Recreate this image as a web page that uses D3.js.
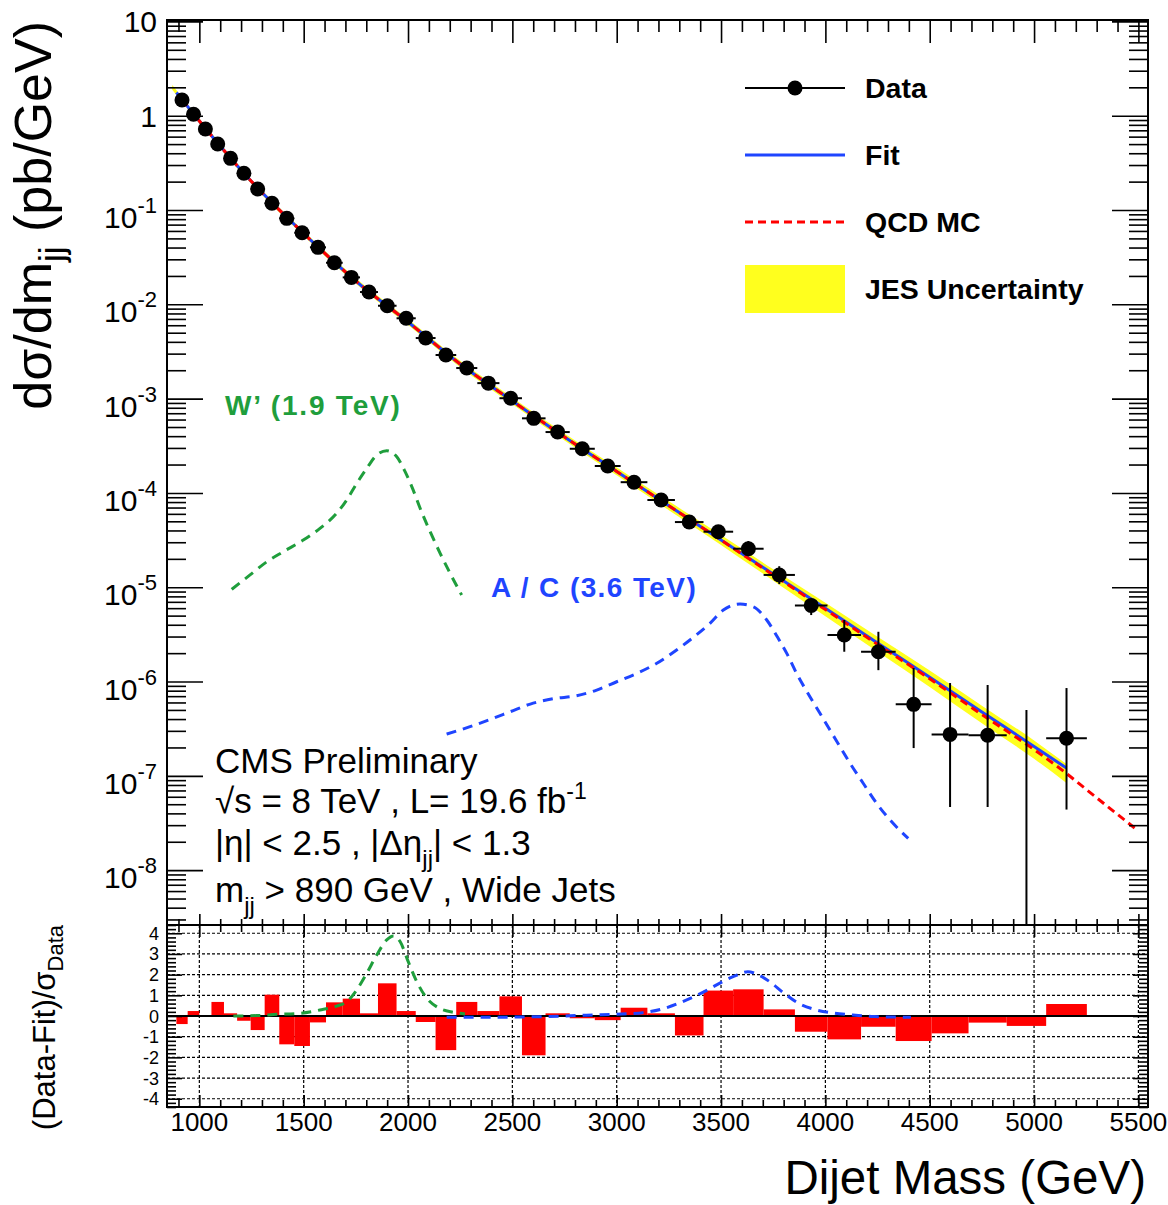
<!DOCTYPE html>
<meta charset="utf-8">
<style>

body {
  margin: 0;
  background: #fff;
}

text {
  font-family: "Liberation Sans", Arial, Helvetica, sans-serif;
}

.frame {
  fill: none;
  stroke: #000;
  stroke-width: 2px;
}

.ticks path {
  display: none;
}

.ticks line {
  stroke: #000;
  stroke-width: 1.6px;
}

.grid {
  stroke: #000;
  stroke-width: 1.2px;
  stroke-dasharray: 3,2;
}

</style>
<svg width="1168" height="1205"></svg>
<script src="https://d3js.org/d3.v7.min.js"></script>
<script>

// dijet mass bins (GeV)
var binEdges = [890, 944, 1000, 1058, 1118, 1181, 1246, 1313, 1383, 1455, 1530, 1607, 1687, 1770,
  1856, 1945, 2037, 2132, 2231, 2332, 2438, 2546, 2659, 2775, 2895, 3019, 3147, 3279, 3416,
  3558, 3704, 3854, 4010, 4171, 4337, 4509, 4686, 4869, 5058, 5253];

// data dsigma/dm (pb/GeV), one per bin
var xsec = [1.467, 1.035, 0.723, 0.501, 0.353, 0.245, 0.167, 0.118, 0.0816, 0.0574, 0.0402,
  0.0276, 0.0193, 0.0135, 0.00966, 0.00711, 0.00439, 0.00290, 0.00211, 0.00146, 0.00101,
  6.18e-4, 4.42e-4, 2.94e-4, 1.93e-4, 1.30e-4, 8.41e-5, 4.91e-5, 3.88e-5, 2.56e-5, 1.35e-5,
  6.42e-6, 3.11e-6, 2.07e-6, 5.73e-7, 2.75e-7, 2.69e-7, 0, 2.50e-7];

// vertical error bar ends (null = hidden under the marker)
var errUp = [null, null, null, null, null, null, null, null, null, null, null, null, null, null,
  null, null, null, null, null, null, null, null, null, null, null, null, null,
  5.69e-5, 4.46e-5, 3.09e-5, 1.67e-5, 7.31e-6, 4.49e-6, 3.37e-6, 1.39e-6, 9.64e-7, 9.19e-7, 4.99e-7, 8.53e-7];
var errDown = [null, null, null, null, null, null, null, null, null, null, null, null, null, null,
  null, null, null, null, null, null, null, null, null, null, null, null, null,
  4.25e-5, 3.33e-5, 2.14e-5, 1.08e-5, 5.07e-6, 2.07e-6, 1.32e-6, 1.97e-7, 4.67e-8, 4.67e-8, 0, 4.39e-8];

// (Data-Fit)/sigma per bin
var pulls = [-0.39, 0.24, 0.02, 0.68, 0.13, -0.23, -0.68, 1.03, -1.37, -1.45, -0.31, 0.66, 0.84,
  0.13, 1.58, 0.24, -0.29, -1.65, 0.68, 0.24, 0.95, -1.9, 0.13, -0.11, -0.2, 0.4, 0.13, -0.94,
  1.23, 1.29, 0.32, -0.76, -1.13, -0.52, -1.21, -0.84, -0.32, -0.48, 0.58];

// fit
var fitMass = [890, 917, 1000, 1250, 1500, 1750, 2000, 2250, 2500, 2750, 3000, 3250, 3500, 3750,
  4000, 4250, 4500, 4750, 5000, 5155];
var fitXsec = [1.76, 1.485, 0.879, 0.2005, 0.0564, 0.01766, 0.00649, 0.002328, 9.44e-4, 3.92e-4,
  1.69e-4, 7.31e-5, 3.17e-5, 1.38e-5, 5.99e-6, 2.57e-6, 1.11e-6, 4.76e-7, 2.05e-7, 1.21e-7];

// QCD MC and its JES uncertainty (fraction)
var qcdMass = [870, 917, 1000, 1250, 1500, 1750, 2000, 2250, 2500, 2750, 3000, 3250, 3500, 3750,
  4000, 4250, 4500, 4750, 5000, 5155, 5250, 5500];
var qcdXsec = [2.0, 1.485, 0.879, 0.2005, 0.0564, 0.01766, 0.00649, 0.002328, 9.44e-4, 3.92e-4,
  1.69e-4, 7.31e-5, 3.17e-5, 1.35e-5, 5.80e-6, 2.48e-6, 1.07e-6, 4.47e-7, 1.90e-7, 1.06e-7,
  7.18e-8, 2.6e-8];
var jesFrac = [0.06, 0.06, 0.06, 0.06, 0.065, 0.07, 0.075, 0.08, 0.085, 0.09, 0.10, 0.115, 0.13,
  0.15, 0.18, 0.20, 0.22, 0.24, 0.25, 0.26];

// signal shapes
var wpMass = [1155, 1243, 1323, 1402, 1498, 1578, 1658, 1706, 1754, 1802, 1850, 1898, 1946, 1986,
  2025, 2058, 2106, 2154, 2202, 2257];
var wpXsec = [9.5e-6, 1.35e-5, 1.86e-5, 2.38e-5, 3.16e-5, 4.21e-5, 6.08e-5, 8.41e-5, 1.26e-4,
  1.82e-4, 2.52e-4, 2.80e-4, 2.42e-4, 1.68e-4, 1.07e-4, 6.87e-5, 3.88e-5, 2.29e-5, 1.40e-5, 8.26e-6];
var acMass = [2185, 2297, 2394, 2490, 2586, 2696, 2808, 2904, 3000, 3096, 3192, 3287, 3367, 3447,
  3511, 3591, 3655, 3719, 3774, 3815, 3862, 3926, 3974, 4022, 4070, 4118, 4182, 4246, 4310, 4397];
var acXsec = [2.77e-7, 3.32e-7, 3.97e-7, 4.79e-7, 5.77e-7, 6.57e-7, 7.07e-7, 8.12e-7, 9.95e-7,
  1.22e-6, 1.56e-6, 2.16e-6, 2.94e-6, 4.14e-6, 5.73e-6, 6.64e-6, 6.21e-6, 4.49e-6, 2.87e-6,
  1.99e-6, 1.22e-6, 6.9e-7, 4.60e-7, 3.06e-7, 2.04e-7, 1.36e-7, 8.3e-8, 5.1e-8, 3.4e-8, 2.17e-8];

var wpPullMass = [1163, 1275, 1371, 1482, 1578, 1658, 1706, 1754, 1802, 1850, 1898, 1930, 1962,
  2001, 2042, 2090, 2145, 2217, 2273];
var wpPull = [0.0, 0.02, 0.08, 0.13, 0.29, 0.48, 0.69, 1.26, 2.06, 2.95, 3.68, 3.87, 3.60, 2.63,
  1.66, 0.86, 0.40, 0.18, 0.10];
var acPullMass = [2185, 2409, 2648, 2888, 3021, 3125, 3229, 3333, 3420, 3507, 3576, 3628, 3681,
  3733, 3802, 3872, 3958, 4045, 4132, 4236, 4410];
var acPull = [-0.06, -0.06, -0.03, 0.05, 0.1, 0.16, 0.37, 0.77, 1.18, 1.66, 1.98, 2.14, 1.98, 1.66,
  1.10, 0.61, 0.29, 0.13, 0.05, -0.03, -0.06];

var xMajor = [1000, 1500, 2000, 2500, 3000, 3500, 4000, 4500, 5000, 5500];
var decades = [1e-8, 1e-7, 1e-6, 1e-5, 1e-4, 1e-3, 1e-2, 1e-1, 1, 10];
var pullTicks = [-4, -3, -2, -1, 0, 1, 2, 3, 4];

var green = "#1f9e3c", blue = "#1f45ff", red = "#ff0000", yellow = "#ffff1e";

var svg = d3.select("svg");

var left = 167, right = 1148,
    top1 = 20, bot1 = 925, bot2 = 1107;

var x = d3.scaleLinear().domain([845, 5546]).range([left, right]);
var y = d3.scaleLog().domain([2.62e-9, 10.35]).range([bot1, top1]);
var yr = d3.scaleLinear().domain([-4.4, 4.4]).range([bot2, bot1]);

// minor tick positions
var xMinor = d3.range(900, 5546, 100).filter(function(d) { return d % 500 !== 0; });
var yMinor = [];
for (var e = -9; e <= 0; e++) {
  for (var k = 2; k <= 9; k++) {
    var v = k * Math.pow(10, e);
    if (v > y.domain()[0] && v < y.domain()[1]) yMinor.push(v);
  }
}
var pullMinor = d3.range(-4.4, 4.41, 0.2).map(function(d) { return Math.round(d * 10) / 10; })
    .filter(function(d) { return Math.abs(d - Math.round(d)) > 0.01; });

svg.append("defs").append("clipPath").attr("id", "clipTop")
  .append("rect").attr("x", left).attr("y", top1).attr("width", right - left).attr("height", bot1 - top1);
svg.select("defs").append("clipPath").attr("id", "clipBot")
  .append("rect").attr("x", left).attr("y", bot1).attr("width", right - left).attr("height", bot2 - bot1);

//=========== top panel ===========
var gTop = svg.append("g").attr("clip-path", "url(#clipTop)");

var logLine = d3.line()
    .x(function(d) { return x(d[0]); })
    .y(function(d) { return y(d[1]); })
    .curve(d3.curveMonotoneX);

// JES band
var band = qcdMass.slice(0, jesFrac.length).map(function(m, i) {
  return {m: m, hi: qcdXsec[i] * (1 + jesFrac[i]), lo: qcdXsec[i] / (1 + jesFrac[i])};
});
gTop.append("path")
    .datum(band)
    .attr("fill", yellow)
    .attr("d", d3.area()
        .x(function(d) { return x(d.m); })
        .y0(function(d) { return y(d.lo); })
        .y1(function(d) { return y(d.hi); })
        .curve(d3.curveMonotoneX));

gTop.append("path")
    .datum(d3.zip(fitMass, fitXsec))
    .attr("fill", "none").attr("stroke", blue).attr("stroke-width", 3)
    .attr("d", logLine);

gTop.append("path")
    .datum(d3.zip(qcdMass, qcdXsec).slice(1))
    .attr("fill", "none").attr("stroke", red).attr("stroke-width", 3)
    .attr("stroke-dasharray", "8,5")
    .attr("d", logLine);

gTop.append("path")
    .datum(d3.zip(wpMass, wpXsec))
    .attr("fill", "none").attr("stroke", green).attr("stroke-width", 3)
    .attr("stroke-dasharray", "10,7")
    .attr("d", logLine);

gTop.append("path")
    .datum(d3.zip(acMass, acXsec))
    .attr("fill", "none").attr("stroke", blue).attr("stroke-width", 3)
    .attr("stroke-dasharray", "10,7")
    .attr("d", logLine);

// data points
var bins = xsec.map(function(v, i) {
  return {lo: binEdges[i], hi: binEdges[i + 1], mid: (binEdges[i] + binEdges[i + 1]) / 2,
          v: v, up: errUp[i], down: errDown[i], pull: pulls[i]};
});

var pts = gTop.selectAll(".pt")
    .data(bins)
  .enter().append("g")
    .attr("class", "pt");

pts.filter(function(d) { return d.v > 0; }).append("line")
    .attr("x1", function(d) { return x(d.lo); })
    .attr("x2", function(d) { return x(d.hi); })
    .attr("y1", function(d) { return y(d.v); })
    .attr("y2", function(d) { return y(d.v); })
    .attr("stroke", "#000").attr("stroke-width", 2);

pts.filter(function(d) { return d.up != null; }).append("line")
    .attr("x1", function(d) { return x(d.mid); })
    .attr("x2", function(d) { return x(d.mid); })
    .attr("y1", function(d) { return y(d.up); })
    .attr("y2", function(d) { return d.down > 0 ? y(d.down) : bot1 + 5; })
    .attr("stroke", "#000").attr("stroke-width", 2);

pts.filter(function(d) { return d.v > 0; }).append("circle")
    .attr("cx", function(d) { return x(d.mid); })
    .attr("cy", function(d) { return y(d.v); })
    .attr("r", 7.5)
    .attr("fill", "#000");

// top panel frame ticks
function ticks(axis, values, size, tx, ty) {
  svg.append("g").attr("class", "ticks")
      .attr("transform", "translate(" + tx + "," + ty + ")")
      .call(axis.tickValues(values).tickSize(size).tickFormat(""));
}
ticks(d3.axisBottom(x), xMajor, 23, 0, top1);
ticks(d3.axisBottom(x), xMinor, 12, 0, top1);
ticks(d3.axisTop(x), xMajor, 11, 0, bot1);
ticks(d3.axisTop(x), xMinor, 6, 0, bot1);
ticks(d3.axisRight(y), decades, 36, left, 0);
ticks(d3.axisRight(y), yMinor, 19, left, 0);
ticks(d3.axisLeft(y), decades, 36, right, 0);
ticks(d3.axisLeft(y), yMinor, 19, right, 0);

svg.append("rect").attr("class", "frame")
    .attr("x", left).attr("y", top1).attr("width", right - left).attr("height", bot1 - top1);

// y tick labels
var yLab = svg.append("g").attr("font-size", 30).attr("text-anchor", "end");
decades.forEach(function(d) {
  var n = Math.round(Math.log10(d));
  var t = yLab.append("text").attr("x", 157);
  if (n >= 0) {
    t.attr("y", y(d) + 11).text(n === 1 ? "10" : "1");
  } else {
    t.attr("y", y(d) + 18);
    t.append("tspan").text("10");
    t.append("tspan").attr("dy", -15).attr("font-size", 22).text("-" + (-n));
  }
});

// y title
var yTitle = svg.append("text")
    .attr("transform", "translate(51,21) rotate(-90)")
    .attr("text-anchor", "end")
    .attr("font-size", 52);
yTitle.append("tspan").text("d\u03c3/dm");
yTitle.append("tspan").attr("dy", 13).attr("font-size", 35).text("jj");
yTitle.append("tspan").attr("dy", -13).text(" (pb/GeV)");

// legend
var legend = svg.append("g");
var lx0 = 745, lx1 = 845, tx = 865;
legend.append("line").attr("x1", lx0).attr("x2", lx1).attr("y1", 88).attr("y2", 88)
    .attr("stroke", "#000").attr("stroke-width", 2);
legend.append("circle").attr("cx", (lx0 + lx1) / 2).attr("cy", 88).attr("r", 7.5).attr("fill", "#000");
legend.append("line").attr("x1", lx0).attr("x2", lx1).attr("y1", 155).attr("y2", 155)
    .attr("stroke", blue).attr("stroke-width", 3);
legend.append("line").attr("x1", lx0).attr("x2", lx1).attr("y1", 222).attr("y2", 222)
    .attr("stroke", red).attr("stroke-width", 3).attr("stroke-dasharray", "8,5");
legend.append("rect").attr("x", lx0).attr("y", 265).attr("width", lx1 - lx0).attr("height", 48)
    .attr("fill", yellow);
[["Data", 98], ["Fit", 165], ["QCD MC", 232], ["JES Uncertainty", 299]].forEach(function(l) {
  legend.append("text").attr("x", tx).attr("y", l[1])
      .attr("font-size", 28.5).attr("font-weight", "bold").text(l[0]);
});

// signal labels
svg.append("text").attr("x", 225).attr("y", 415).attr("fill", green)
    .attr("font-size", 28).attr("letter-spacing", 1.8).attr("font-weight", "bold").text("W\u2019 (1.9 TeV)");
svg.append("text").attr("x", 491).attr("y", 597).attr("fill", blue)
    .attr("font-size", 28).attr("letter-spacing", 1.4).attr("font-weight", "bold").text("A / C (3.6 TeV)");

// CMS text
var cms = svg.append("g").attr("font-size", 35);
cms.append("text").attr("x", 215).attr("y", 773).text("CMS Preliminary");
var l2 = cms.append("text").attr("x", 215).attr("y", 813);
l2.append("tspan").text("\u221as = 8 TeV , L= 19.6 fb");
l2.append("tspan").attr("dy", -14).attr("font-size", 23).text("-1");
var l3 = cms.append("text").attr("x", 215).attr("y", 855);
l3.append("tspan").text("|\u03b7| < 2.5 , |\u0394\u03b7");
l3.append("tspan").attr("dy", 12).attr("font-size", 24).text("jj");
l3.append("tspan").attr("dy", -12).text("| < 1.3");
var l4 = cms.append("text").attr("x", 215).attr("y", 902);
l4.append("tspan").text("m");
l4.append("tspan").attr("dy", 12).attr("font-size", 24).text("jj");
l4.append("tspan").attr("dy", -12).text(" > 890 GeV , Wide Jets");

//=========== bottom panel ===========
var gBot = svg.append("g").attr("clip-path", "url(#clipBot)");

gBot.selectAll(".hgrid")
    .data(pullTicks.filter(function(d) { return d !== 0; }))
  .enter().append("line")
    .attr("class", "grid")
    .attr("x1", left).attr("x2", right)
    .attr("y1", function(d) { return yr(d); })
    .attr("y2", function(d) { return yr(d); });

gBot.selectAll(".vgrid")
    .data(xMajor)
  .enter().append("line")
    .attr("class", "grid")
    .attr("x1", function(d) { return x(d); })
    .attr("x2", function(d) { return x(d); })
    .attr("y1", bot1).attr("y2", bot2);

gBot.selectAll(".bar")
    .data(bins)
  .enter().append("rect")
    .attr("x", function(d) { return x(d.lo); })
    .attr("width", function(d) { return x(d.hi) - x(d.lo); })
    .attr("y", function(d) { return yr(Math.max(0, d.pull)); })
    .attr("height", function(d) { return Math.abs(yr(d.pull) - yr(0)); })
    .attr("fill", red);

gBot.append("line")
    .attr("x1", left).attr("x2", right)
    .attr("y1", yr(0)).attr("y2", yr(0))
    .attr("stroke", "#000").attr("stroke-width", 2);

var pullLine = d3.line()
    .x(function(d) { return x(d[0]); })
    .y(function(d) { return yr(d[1]); })
    .curve(d3.curveMonotoneX);

gBot.append("path")
    .datum(d3.zip(wpPullMass, wpPull))
    .attr("fill", "none").attr("stroke", green).attr("stroke-width", 3)
    .attr("stroke-dasharray", "10,7")
    .attr("d", pullLine);

gBot.append("path")
    .datum(d3.zip(acPullMass, acPull))
    .attr("fill", "none").attr("stroke", blue).attr("stroke-width", 3)
    .attr("stroke-dasharray", "10,7")
    .attr("d", pullLine);

ticks(d3.axisBottom(x), xMajor, 12, 0, bot1);
ticks(d3.axisBottom(x), xMinor, 7, 0, bot1);
ticks(d3.axisTop(x), xMajor, 12, 0, bot2);
ticks(d3.axisTop(x), xMinor, 7, 0, bot2);
ticks(d3.axisRight(yr), pullTicks, 15, left, 0);
ticks(d3.axisRight(yr), pullMinor, 9, left, 0);
ticks(d3.axisLeft(yr), pullTicks, 15, right, 0);
ticks(d3.axisLeft(yr), pullMinor, 9, right, 0);

svg.append("rect").attr("class", "frame")
    .attr("x", left).attr("y", bot1).attr("width", right - left).attr("height", bot2 - bot1);

svg.append("g").attr("font-size", 18).attr("text-anchor", "end")
  .selectAll("text")
    .data(pullTicks)
  .enter().append("text")
    .attr("x", 159)
    .attr("y", function(d) { return yr(d) + 6.5; })
    .text(function(d) { return d; });

svg.append("g").attr("font-size", 26).attr("text-anchor", "middle")
  .selectAll("text")
    .data(xMajor)
  .enter().append("text")
    .attr("x", function(d) { return x(d); })
    .attr("y", 1131)
    .text(function(d) { return d; });

var pTitle = svg.append("text")
    .attr("transform", "translate(55,925) rotate(-90)")
    .attr("text-anchor", "end")
    .attr("font-size", 31);
pTitle.append("tspan").text("(Data-Fit)/\u03c3");
pTitle.append("tspan").attr("dy", 8).attr("font-size", 22).text("Data");

svg.append("text")
    .attr("x", 1146).attr("y", 1194)
    .attr("text-anchor", "end")
    .attr("font-size", 47.5)
    .text("Dijet Mass (GeV)");

</script>
